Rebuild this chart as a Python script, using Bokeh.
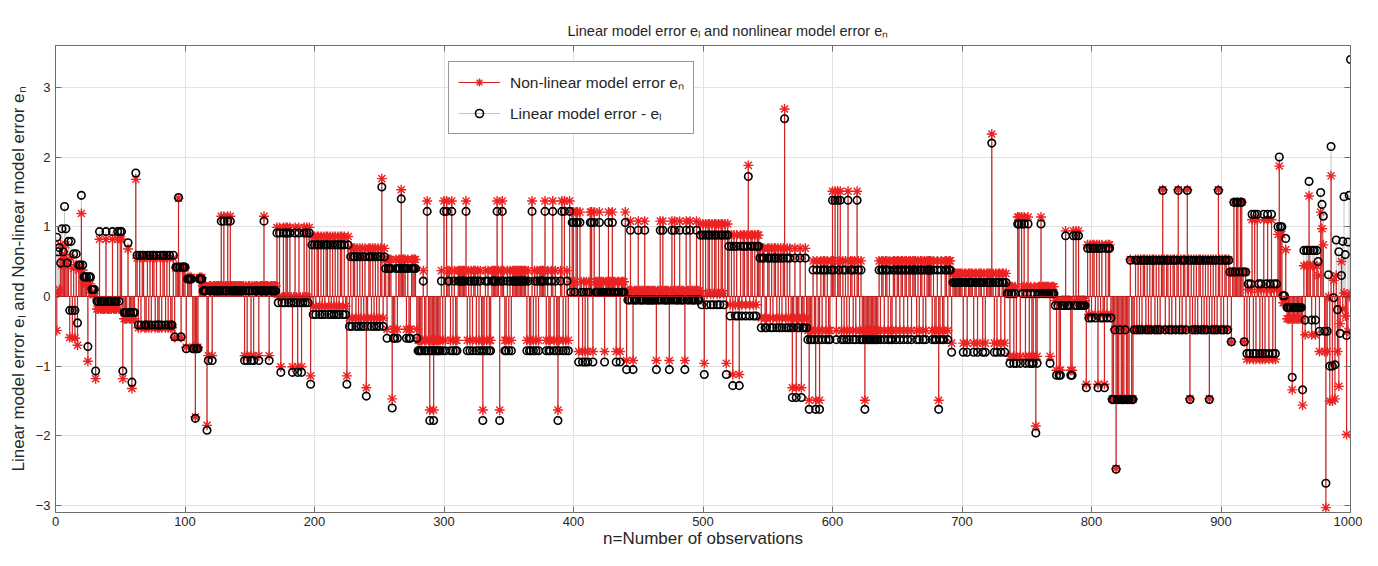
import numpy as np
from bokeh.plotting import figure
from bokeh.models import (Range1d, Span, Legend, LegendItem, LinearAxis, FixedTicker,
                          CustomJSTickFormatter, ColumnDataSource)
from bokeh.embed import file_html
from bokeh.resources import INLINE

# ---- data (observations 1..1000) ----
# transient at the start (obs 1-30)
transient_black = [0.85, 0.64, 0.70, 0.48, 0.97, 0.64, 1.29, 0.97, 0.48, 0.79,
                   -0.20, 0.79, -0.20, 0.61, -0.20, 0.61, -0.38, 0.45, 0.45, 1.45,
                   0.45, 0.28, 0.28, 0.28, -0.72, 0.28, 0.28, 0.10, 0.10, 0.10]
transient_red = [-0.49, 0.05, 0.10, 0.74, 0.45, 0.55, 0.60, 0.74, 0.50, 0.45,
                 -0.59, 0.55, -0.59, 0.40, -0.60, 0.45, -0.70, 0.38, 0.40, 1.19,
                 0.38, 0.20, 0.18, 0.20, -0.93, 0.15, 0.18, 0.05, 0.02, 0.04]

# segments (obs 31-943): level of each series, then per-observation level step
# (digit 3 = segment level, 2 = one unit lower, 1 = two lower, 0 = three lower, 4/5 = one/two higher)
seg_black_base = [0.93, 0.77, 0.59, 0.42, 0.25, 0.08, 0.91, 0.74, 0.57, 0.40, 0.22, 0.06,
                  -0.05, 0.88, 0.72, 0.55, 0.38, 0.20, 0.04, -0.13, 0.69, 0.52, 0.35, 0.18]
seg_red_base = [0.82, 0.68, 0.55, 0.41, 0.27, 0.15, 0.99, 0.86, 0.69, 0.53, 0.37, 0.21,
                0.08, 1.04, 0.88, 0.69, 0.51, 0.33, 0.14, -0.06, 0.74, 0.53, 0.35, 0.10]
seg_pattern = [
    "1223222232222322232331",
    "2223221224",
    "3232332232" "3233232232" "332323223",
    "233432333",
    "2333322122333",
    "3331233233" "3333434334" "3433333333" "3323233232" "3332333433" "3233333",
    "3231232332" "3212321321" "232323",
    "1" "3232332323" "2332323232" "323323213",
    "2323323232" "3231233232" "32323423",
    "3233312232" "3343332322" "33332",
    "2222322421" "2212222232" "4243324232" "2333333423" "2323323232" "1232322333"
    "3431343223" "2323333333" "3333232242" "3232333342" "3223423212" "34242324",
    "3443442432" "3232344243" "3343332334" "3343323323" "334",
    "2334323334" "3333433333" "3332334343" "3332343433" "3433324334" "3333433",
    "3231323323" "2332323323" "13",
    "3231323213" "2332342332" "3233",
    "3233223323" "2332323235" "2323212312" "2312232",
    "2122321321" "3233232234" "3424342323" "2423323243" "2322122222" "2222232332"
    "3323223323" "3233233233" "2333232332" "3233332322" "3123223323" "3",
    "2333333332" "3323333233" "2333232333" "3532323323" "323",
    "3323323244" "2434234232" "2312334333" "3332333",
    "3232233343" "3322434343" "3333",
    "1323233231" "3232132332",
    "1120112111" "2111311232" "3232332323" "2332323234" "3233232332" "3423233243"
    "1323232332" "3232313232" "3243232332" "3",
    "3234344344323",
    "2323424243" "2324234234" "2323",
]

# irregular end section (obs 944-1000)
tail_black = [1.00, 2.00, 1.00, 1.00, 0.01, 0.01, 0.83, -0.16, -0.16, -0.16,
              -0.16, -1.16, -0.16, -0.16, -0.16, -0.16, -0.16, -0.16, -0.16, -1.34,
              0.66, -0.34, 0.66, 0.66, 1.65, 0.66, -0.34, 0.66, 0.66, -0.34,
              0.66, 0.50, -0.50, 1.49, 1.32, 1.15, -0.50, -2.68, -0.50, 0.31,
              -1.00, 2.15, -1.00, -0.02, -0.98, 0.81, -0.19, 0.64, -0.53, 0.30,
              0.79, 1.43, 0.60, -0.56, 0.78, 1.45, 3.40]
tail_red = [0.89, 1.87, 0.89, 0.89, -0.09, -0.09, 0.67, -0.32, -0.32, -0.32,
            -0.32, -1.34, -0.32, -0.32, -0.32, -0.32, -0.32, -0.32, -0.32, -1.56,
            0.44, -0.55, 0.44, 0.44, 1.44, 0.44, -0.55, 0.44, 0.44, -0.55,
            0.44, 0.30, -0.79, 1.21, 0.97, 0.74, -0.79, -3.03, -0.79, 0.00,
            -1.50, 1.73, -1.50, 0.23, -1.47, 0.30, -0.79, -1.29, -0.39, 0.50,
            -0.18, 0.05, -0.28, -1.98, -0.50, 0.00, 0.05]

x_ticks = [0, 100, 200, 300, 400, 500, 600, 700, 800, 900, 1000]
y_ticks = [-3, -2, -1, 0, 1, 2, 3]

# ---- assemble series ----
black = list(transient_black)
red = list(transient_red)
for b0, r0, pat in zip(seg_black_base, seg_red_base, seg_pattern):
    for ch in pat:
        k = int(ch) - 3
        black.append(round(b0 + k, 2))
        red.append(round(r0 + k, 2))
black += tail_black
red += tail_red
n = np.arange(1, len(black) + 1)

src = ColumnDataSource(dict(n=n, zero=np.zeros(len(n)), black=black, red=red))

FONT = "Liberation Sans"
TXT = "#262626"
AXC = "#6e6e6e"

p = figure(width=1362, height=550, x_range=Range1d(0, 1000), y_range=Range1d(-3.1, 3.6),
           output_backend="svg", toolbar_location=None,
           min_border_left=55, min_border_right=12, min_border_top=45, min_border_bottom=30)

p.title.text = "Linear model error e\u2097 and nonlinear model error e\u2099"
p.title.align = "left"
p.title.offset = 512
p.title.text_font = FONT
p.title.text_font_size = "14.5px"
p.title.text_font_style = "normal"
p.title.text_color = TXT
p.title.standoff = 14

p.background_fill_color = "white"
p.border_fill_color = "white"
p.outline_line_color = AXC
p.outline_line_width = 1

p.xaxis.ticker = FixedTicker(ticks=x_ticks)
p.yaxis.ticker = FixedTicker(ticks=y_ticks)
for ax in (p.xaxis[0], p.yaxis[0]):
    ax.major_tick_in = 6
    ax.major_tick_out = 0
    ax.minor_tick_line_color = None
    ax.axis_line_color = AXC
    ax.major_tick_line_color = AXC
    ax.major_label_text_font = FONT
    ax.major_label_text_font_size = "13px"
    ax.major_label_text_color = TXT
    ax.axis_label_text_font = FONT
    ax.axis_label_text_font_size = "17px"
    ax.axis_label_text_font_style = "normal"
    ax.axis_label_text_color = TXT
p.xaxis.major_label_standoff = 4
p.xaxis.axis_label_standoff = 0
p.yaxis.major_label_standoff = 5
p.yaxis.axis_label_standoff = 5
p.xaxis.axis_label = "n=Number of observations"
p.yaxis.axis_label = "Linear model error e\u2097 and Non-linear model error e\u2099"

# box ticks on right / top
for loc, tk in (("right", y_ticks), ("above", x_ticks)):
    ax = LinearAxis(ticker=FixedTicker(ticks=tk),
                    formatter=CustomJSTickFormatter(code="return ''"),
                    major_tick_in=6, major_tick_out=0, minor_tick_line_color=None,
                    axis_line_color=AXC, major_tick_line_color=AXC,
                    major_label_standoff=0, major_label_text_font_size="1px")
    p.add_layout(ax, loc)

p.grid.grid_line_color = "#e2e2e2"
p.grid.grid_line_width = 1

RED_STEM = "#d42020"
RED_MARK = "#ec2222"
gray_seg = p.segment(x0="n", y0="zero", x1="n", y1="black", source=src,
                     line_color="#b4b4b4", line_width=0.8)
red_seg = p.segment(x0="n", y0="zero", x1="n", y1="red", source=src,
                    line_color=RED_STEM, line_width=1.2)
p.add_layout(Span(location=0, dimension="width", line_color="#b51a1a", line_width=1))
red_star = p.scatter(x="n", y="red", source=src, marker="asterisk", size=10,
                     line_color=RED_MARK, line_width=1.4)
black_circ = p.scatter(x="n", y="black", source=src, marker="circle", size=7.5,
                       line_color="black", fill_color=None, line_width=1.6)

legend = Legend(items=[
    LegendItem(label="Non-linear model error e\u2099", renderers=[red_seg, red_star]),
    LegendItem(label="Linear model error - e\u2097", renderers=[gray_seg, black_circ]),
], location=(393, 378))
legend.label_text_font = FONT
legend.label_text_font_size = "15.5px"
legend.label_text_color = TXT
legend.glyph_width = 42
legend.glyph_height = 20
legend.spacing = 9
legend.padding = 9
legend.margin = 0
legend.label_standoff = 10
legend.border_line_color = "#333333"
legend.border_line_width = 1
legend.background_fill_color = "white"
legend.background_fill_alpha = 1
p.add_layout(legend, "center")

open("out.html", "w").write(file_html(p, INLINE))
